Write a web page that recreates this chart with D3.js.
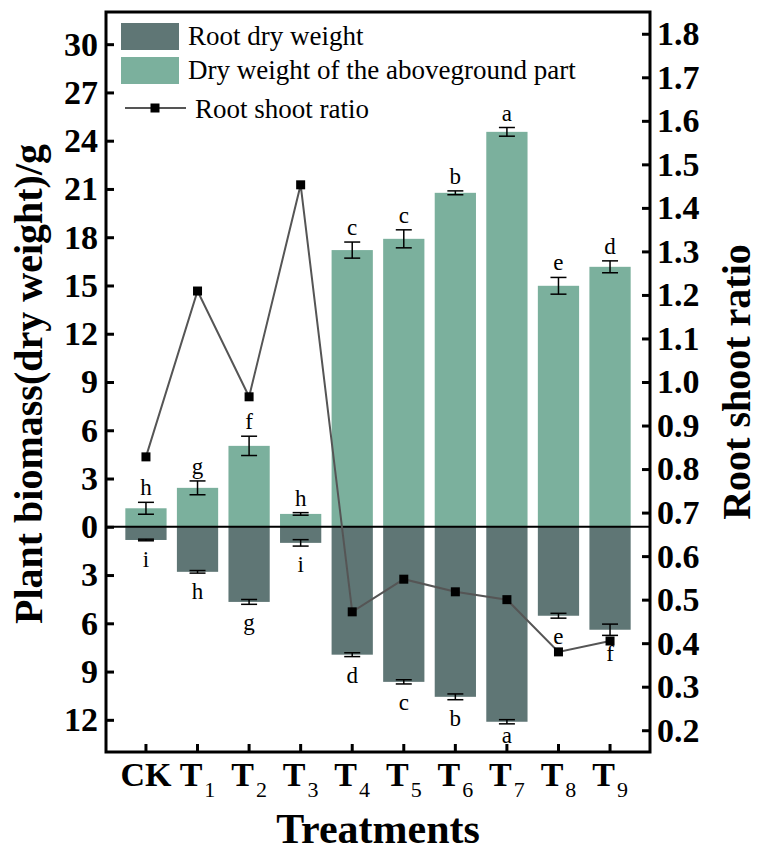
<!DOCTYPE html>
<html>
<head>
<meta charset="utf-8">
<script src="https://cdn.jsdelivr.net/npm/d3@7/dist/d3.min.js"></script>
<style>
  html, body { margin: 0; padding: 0; background: #ffffff; }
  svg { display: block; }
</style>
</head>
<body>
<svg id="chart" width="759" height="853"></svg>
<script>
// ---------- data ----------
const categories = ["CK", "T1", "T2", "T3", "T4", "T5", "T6", "T7", "T8", "T9"];
const tickMain   = ["CK", "T", "T", "T", "T", "T", "T", "T", "T", "T"];
const tickSub    = ["", "1", "2", "3", "4", "5", "6", "7", "8", "9"];

const shootWeight = [1.15, 2.42, 5.03, 0.80, 17.2, 17.9, 20.76, 24.55, 14.98, 16.16];
const shootError  = [0.37, 0.43, 0.60, 0.08, 0.50, 0.56, 0.12, 0.27, 0.52, 0.37];
const shootLetter = ["h", "g", "f", "h", "c", "c", "b", "a", "e", "d"];

const rootWeight  = [0.82, 2.80, 4.67, 1.00, 7.95, 9.64, 10.57, 12.12, 5.53, 6.40];
const rootError   = [0.05, 0.08, 0.15, 0.20, 0.12, 0.13, 0.18, 0.13, 0.15, 0.35];
const rootLetter  = ["i", "h", "g", "i", "d", "c", "b", "a", "e", "f"];

const rootShootRatio = [0.828, 1.209, 0.966, 1.453, 0.472, 0.547, 0.518, 0.500, 0.380, 0.405];

const leftTicks  = [-12, -9, -6, -3, 0, 3, 6, 9, 12, 15, 18, 21, 24, 27, 30];
const rightTicks = [0.2, 0.3, 0.4, 0.5, 0.6, 0.7, 0.8, 0.9, 1.0, 1.1, 1.2, 1.3, 1.4, 1.5, 1.6, 1.7, 1.8];

const legendLabels = ["Root dry weight", "Dry weight of the aboveground part", "Root shoot ratio"];

// ---------- styling ----------
const colRoot  = "#5f7675";
const colShoot = "#7bb09d";
const colLine  = "#555555";
const serif = "'Liberation Serif', 'Times New Roman', Times, serif";

// ---------- layout ----------
const plot = { left: 106, right: 650, top: 12, bottom: 752 };

const svg = d3.select("#chart");

const x = d3.scaleBand()
  .domain(categories)
  .range([plot.left, plot.right])
  .paddingInner(0.2)
  .paddingOuter(0.375);

const y = d3.scaleLinear().domain([-14.0, 32.0]).range([plot.bottom, plot.top]);
const y2 = d3.scaleLinear().domain([0.15, 1.85]).range([plot.bottom, plot.top]);

const data = categories.map((c, i) => ({
  c, i,
  shoot: shootWeight[i], se: shootError[i], sl: shootLetter[i],
  root: rootWeight[i], re: rootError[i], rl: rootLetter[i],
  ratio: rootShootRatio[i]
}));

// ---------- bars ----------
const g = svg.append("g");

g.selectAll("rect.shoot").data(data).join("rect")
  .attr("class", "shoot")
  .attr("x", d => x(d.c))
  .attr("width", x.bandwidth())
  .attr("y", d => y(d.shoot))
  .attr("height", d => y(0) - y(d.shoot))
  .attr("fill", colShoot);

g.selectAll("rect.root").data(data).join("rect")
  .attr("class", "root")
  .attr("x", d => x(d.c))
  .attr("width", x.bandwidth())
  .attr("y", y(0))
  .attr("height", d => y(-d.root) - y(0))
  .attr("fill", colRoot);

// zero line
g.append("line")
  .attr("x1", plot.left).attr("x2", plot.right)
  .attr("y1", y(0)).attr("y2", y(0))
  .attr("stroke", "#000").attr("stroke-width", 2);

// ---------- error bars ----------
const cap = 8;
function errorBar(sel, center, lo, hi) {
  sel.append("line").attr("x1", center).attr("x2", center).attr("y1", lo).attr("y2", hi)
    .attr("stroke", "#000").attr("stroke-width", 1.5);
  sel.append("line").attr("x1", center - cap).attr("x2", center + cap).attr("y1", lo).attr("y2", lo)
    .attr("stroke", "#000").attr("stroke-width", 1.5);
  sel.append("line").attr("x1", center - cap).attr("x2", center + cap).attr("y1", hi).attr("y2", hi)
    .attr("stroke", "#000").attr("stroke-width", 1.5);
}
data.forEach(d => {
  const cx = x(d.c) + x.bandwidth() / 2;
  const eg = g.append("g");
  errorBar(eg, cx, y(d.shoot - d.se), y(d.shoot + d.se));
  errorBar(eg, cx, y(-(d.root - d.re)), y(-(d.root + d.re)));
  // letters
  g.append("text")
    .attr("x", cx).attr("y", y(d.shoot + d.se) - 7)
    .attr("text-anchor", "middle")
    .attr("font-family", serif).attr("font-size", 23)
    .text(d.sl);
  g.append("text")
    .attr("x", cx).attr("y", Math.min(y(-(d.root + d.re)) + 26, plot.bottom - 9))
    .attr("text-anchor", "middle")
    .attr("font-family", serif).attr("font-size", 23)
    .text(d.rl);
});

// ---------- ratio line ----------
const line = d3.line()
  .x(d => x(d.c) + x.bandwidth() / 2)
  .y(d => y2(d.ratio));
g.append("path").datum(data)
  .attr("d", line)
  .attr("fill", "none")
  .attr("stroke", colLine)
  .attr("stroke-width", 2);
const ms = 9;
g.selectAll("rect.marker").data(data).join("rect")
  .attr("class", "marker")
  .attr("x", d => x(d.c) + x.bandwidth() / 2 - ms / 2)
  .attr("y", d => y2(d.ratio) - ms / 2)
  .attr("width", ms).attr("height", ms)
  .attr("fill", "#000");

// ---------- axes ----------
const axLeft = d3.axisLeft(y).tickValues(leftTicks)
  .tickFormat(v => Math.abs(v)).tickSizeInner(-8).tickSizeOuter(0).tickPadding(8);
const gl = svg.append("g").attr("transform", `translate(${plot.left},0)`).call(axLeft);

const axRight = d3.axisRight(y2).tickValues(rightTicks)
  .tickFormat(d3.format(".1f")).tickSizeInner(-8).tickSizeOuter(0).tickPadding(7);
const gr = svg.append("g").attr("transform", `translate(${plot.right},0)`).call(axRight);

const axBottom = d3.axisBottom(x).tickSizeInner(-8).tickSizeOuter(0).tickPadding(10);
const gb = svg.append("g").attr("transform", `translate(0,${plot.bottom})`).call(axBottom);

[gl, gr, gb].forEach(a => {
  a.select(".domain").remove();
  a.selectAll(".tick line").attr("stroke", "#000").attr("stroke-width", 3);
  a.selectAll(".tick text")
    .attr("font-family", serif).attr("font-weight", "bold")
    .attr("font-size", 34).attr("fill", "#000");
});

gb.selectAll(".tick text").each(function(d) {
  const i = categories.indexOf(d);
  const t = d3.select(this).text(null).attr("dy", "0.71em");
  t.append("tspan").text(tickMain[i]);
  if (tickSub[i]) {
    t.append("tspan").text(tickSub[i])
      .attr("font-weight", "normal").attr("font-size", 22)
      .attr("dx", 2).attr("dy", 11);
  }
});

// frame
svg.append("rect")
  .attr("x", plot.left).attr("y", plot.top)
  .attr("width", plot.right - plot.left).attr("height", plot.bottom - plot.top)
  .attr("fill", "none").attr("stroke", "#000").attr("stroke-width", 3);

// ---------- axis titles ----------
svg.append("text")
  .attr("transform", `translate(42,${(plot.top + plot.bottom) / 2 + 2}) rotate(-90)`)
  .attr("text-anchor", "middle")
  .attr("font-family", serif).attr("font-weight", "bold").attr("font-size", 40)
  .text("Plant biomass(dry weight)/g");

svg.append("text")
  .attr("transform", `translate(750,${(plot.top + plot.bottom) / 2}) rotate(-90)`)
  .attr("text-anchor", "middle")
  .attr("font-family", serif).attr("font-weight", "bold").attr("font-size", 40)
  .text("Root shoot ratio");

svg.append("text")
  .attr("x", (plot.left + plot.right) / 2).attr("y", 843)
  .attr("text-anchor", "middle")
  .attr("font-family", serif).attr("font-weight", "bold").attr("font-size", 42)
  .text("Treatments");

// ---------- legend ----------
const lg = svg.append("g").attr("transform", `translate(${plot.left + 15},${plot.top + 11})`);
[colRoot, colShoot].forEach((c, i) => {
  lg.append("rect").attr("x", 0).attr("y", i * 34).attr("width", 58).attr("height", 27).attr("fill", c);
  lg.append("text").attr("x", 67).attr("y", i * 34 + 22)
    .attr("font-family", serif).attr("font-size", 27).text(legendLabels[i]);
});
lg.append("line").attr("x1", 4).attr("x2", 65).attr("y1", 85).attr("y2", 85)
  .attr("stroke", colLine).attr("stroke-width", 2);
lg.append("rect").attr("x", 34 - ms / 2).attr("y", 85 - ms / 2).attr("width", ms).attr("height", ms).attr("fill", "#000");
lg.append("text").attr("x", 74).attr("y", 95)
  .attr("font-family", serif).attr("font-size", 27).text(legendLabels[2]);
</script>
</body>
</html>
